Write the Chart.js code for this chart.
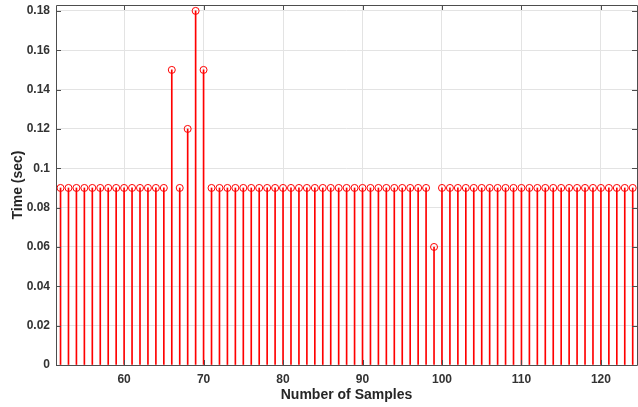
<!DOCTYPE html>
<html>
<head>
<meta charset="utf-8">
<script src="https://cdn.jsdelivr.net/npm/chart.js@4/dist/chart.umd.min.js"></script>
<style>
  html, body { margin: 0; padding: 0; background: #fff; overflow: hidden; }
  #wrap { width: 642px; height: 407px; }
</style>
</head>
<body>
<div id="wrap"><canvas id="stemChart"></canvas></div>
<script>
// sample index and measured time per sample
const samples = [52, 53, 54, 55, 56, 57, 58, 59, 60, 61, 62, 63, 64, 65,
  66, 67, 68, 69, 70,
  71, 72, 73, 74, 75, 76, 77, 78, 79, 80, 81, 82, 83, 84, 85, 86, 87, 88,
  89, 90, 91, 92, 93, 94, 95, 96, 97, 98,
  99,
  100, 101, 102, 103, 104, 105, 106, 107, 108, 109, 110, 111, 112, 113,
  114, 115, 116, 117, 118, 119, 120, 121, 122, 123, 124];
const times = [0.09, 0.09, 0.09, 0.09, 0.09, 0.09, 0.09, 0.09, 0.09, 0.09, 0.09, 0.09, 0.09, 0.09,
  0.15, 0.09, 0.12, 0.18, 0.15,
  0.09, 0.09, 0.09, 0.09, 0.09, 0.09, 0.09, 0.09, 0.09, 0.09, 0.09, 0.09, 0.09, 0.09, 0.09, 0.09, 0.09, 0.09,
  0.09, 0.09, 0.09, 0.09, 0.09, 0.09, 0.09, 0.09, 0.09, 0.09,
  0.06,
  0.09, 0.09, 0.09, 0.09, 0.09, 0.09, 0.09, 0.09, 0.09, 0.09, 0.09, 0.09, 0.09, 0.09,
  0.09, 0.09, 0.09, 0.09, 0.09, 0.09, 0.09, 0.09, 0.09, 0.09, 0.09];

const xTicks = [60, 70, 80, 90, 100, 110, 120];
const yTicks = [0, 0.02, 0.04, 0.06, 0.08, 0.1, 0.12, 0.14, 0.16, 0.18];

const points = samples.map((s, i) => ({ x: s, y: times[i] }));
const stemRed = 'rgb(255, 0, 0)';
const axisGrey = '#4d4d4d';

// box around the plot area with inward ticks on all four sides
const frame = {
  id: 'frame',
  afterDraw(chart) {
    const { ctx, chartArea: a, scales } = chart;
    ctx.save();
    ctx.strokeStyle = axisGrey;
    ctx.lineWidth = 1;
    ctx.beginPath();
    ctx.rect(Math.round(a.left) + 0.5, Math.round(a.top) + 0.5,
      Math.round(a.right - a.left), Math.round(a.bottom - a.top));
    const len = 5;
    xTicks.forEach(v => {
      const px = Math.round(scales.x.getPixelForValue(v)) + 0.5;
      ctx.moveTo(px, a.bottom); ctx.lineTo(px, a.bottom - len);
      ctx.moveTo(px, a.top); ctx.lineTo(px, a.top + len);
    });
    yTicks.forEach(v => {
      const py = Math.round(scales.y.getPixelForValue(v)) + 0.5;
      ctx.moveTo(a.left, py); ctx.lineTo(a.left + len, py);
      ctx.moveTo(a.right, py); ctx.lineTo(a.right - len, py);
    });
    ctx.stroke();
    ctx.restore();
  }
};

const tickFont = { family: 'Liberation Sans, Arial, sans-serif', size: 12, weight: 'bold' };
const titleFont = { family: 'Liberation Sans, Arial, sans-serif', size: 14, weight: 'bold' };

new Chart(document.getElementById('stemChart'), {
  data: {
    datasets: [
      {
        type: 'scatter',
        data: points,
        showLine: false,
        pointStyle: 'circle',
        pointRadius: 3.5,
        pointBorderWidth: 1,
        pointBackgroundColor: 'rgba(0,0,0,0)',
        pointBorderColor: stemRed,
        order: 0
      },
      {
        type: 'bar',
        data: points,
        backgroundColor: stemRed,
        barThickness: 1,
        grouped: false,
        order: 1
      }
    ]
  },
  options: {
    responsive: true,
    maintainAspectRatio: false,
    animation: false,
    layout: { padding: { top: 5, right: 1, left: 0, bottom: 0 } },
    plugins: {
      legend: { display: false },
      tooltip: { enabled: false }
    },
    scales: {
      x: {
        type: 'linear',
        offset: false,
        min: 51.43,
        max: 124.54,
        afterFit: s => { s.height = 42; s.paddingLeft = 0; s.paddingRight = 0; },
        afterBuildTicks: s => { s.ticks = xTicks.map(v => ({ value: v })); },
        grid: { color: '#e3e3e3', drawTicks: false, offset: false },
        border: { display: false },
        ticks: { font: tickFont, color: '#333', padding: 7 },
        title: {
          display: true,
          text: 'Number of Samples',
          font: titleFont,
          color: '#262626',
          padding: { top: 0, bottom: 3 }
        }
      },
      y: {
        type: 'linear',
        min: 0,
        max: 0.183,
        afterFit: s => { s.width = 56; s.paddingTop = 0; s.paddingBottom = 0; },
        afterBuildTicks: s => { s.ticks = yTicks.map(v => ({ value: v })); },
        grid: { color: '#e3e3e3', drawTicks: false },
        border: { display: false },
        ticks: {
          font: tickFont,
          color: '#333',
          padding: 6,
          callback: v => String(Number(v.toFixed(2)))
        },
        title: {
          display: true,
          text: 'Time (sec)',
          font: titleFont,
          color: '#262626',
          padding: { top: 10, bottom: 0 }
        }
      }
    }
  },
  plugins: [frame]
});
</script>
</body>
</html>
